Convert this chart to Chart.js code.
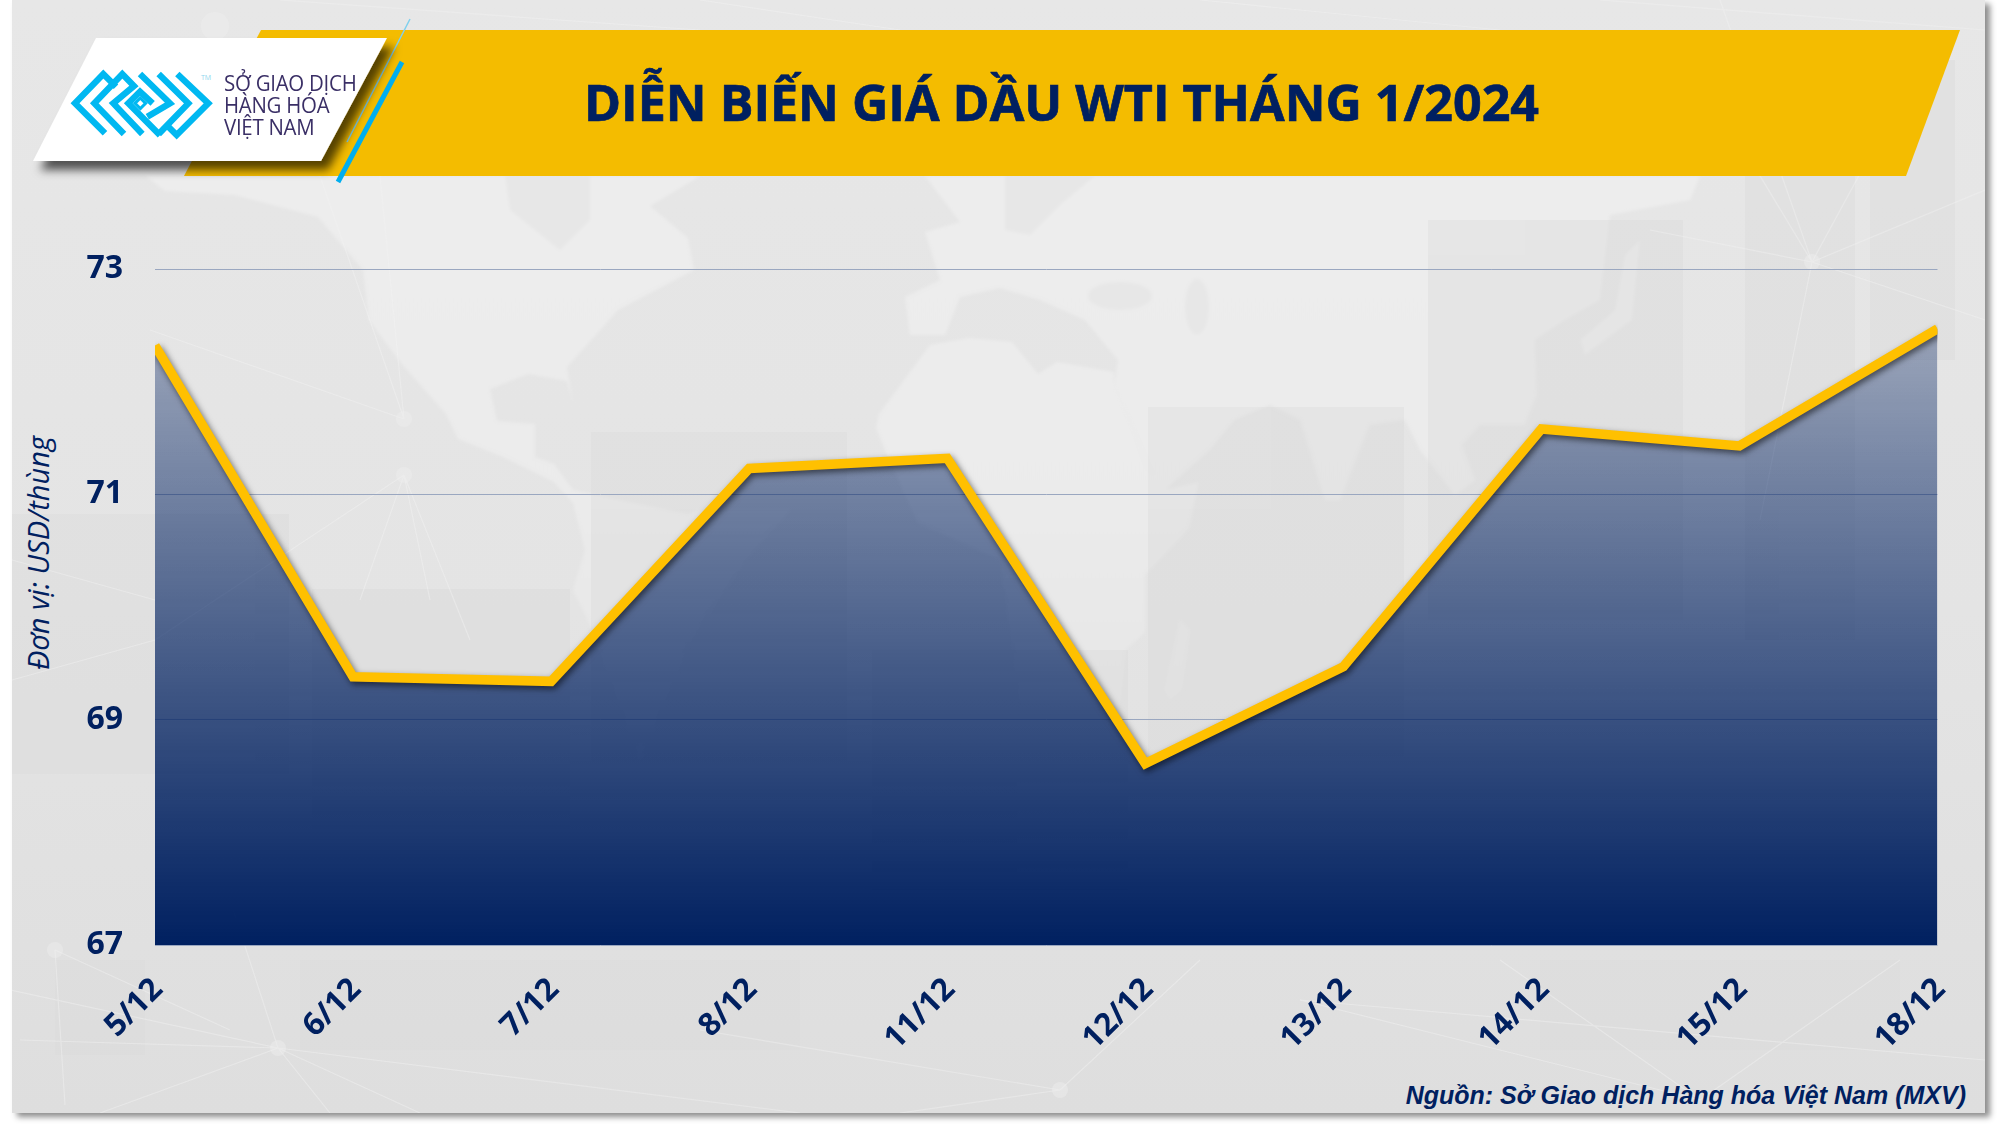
<!DOCTYPE html>
<html lang="vi"><head><meta charset="utf-8">
<script src="https://cdn.jsdelivr.net/npm/chart.js@4"></script>
<style>
html,body{margin:0;padding:0;background:#fff;width:2000px;height:1125px;overflow:hidden}
.abs{position:absolute}
#panel{left:12px;top:0;width:1973px;height:1113px;background:linear-gradient(#e7e7e7,#e4e4e4 55%,#dedede);box-shadow:5px 4px 6px rgba(0,0,0,.45)}
#chart{position:absolute;left:0;top:0}
#title{left:0;width:2123px;top:67px;text-align:center;font:700 50.2px "Open Sans",sans-serif;-webkit-text-stroke:.7px #002060;color:#002060;line-height:70px;white-space:nowrap}
#source{right:34px;top:1081px;font:italic 700 25px "Liberation Sans",sans-serif;color:#002060;white-space:nowrap}
#ytitle{left:37px;top:553px;transform:translate(-50%,-50%) rotate(-90deg);font:italic 400 29px "Open Sans",sans-serif;color:#002060;white-space:nowrap}
.lg{left:224px;font:400 22px "Open Sans",sans-serif;color:#3a2f66;line-height:22px;white-space:nowrap;letter-spacing:-.3px;transform:scaleX(.93);transform-origin:left center}
</style></head><body>
<div id="panel" class="abs"></div>
<svg class="abs" style="left:0;top:0" width="2000" height="1125" viewBox="0 0 2000 1125">
 <defs>
  <filter id="sh" x="-20%" y="-20%" width="140%" height="140%"><feDropShadow dx="7" dy="9" stdDeviation="5" flood-color="#000" flood-opacity=".65"/></filter>
  <filter id="soft" x="-5%" y="-5%" width="110%" height="110%"><feGaussianBlur stdDeviation="1.6"/></filter>
  <clipPath id="pc"><rect x="12" y="0" width="1973" height="1113"/></clipPath>
  <linearGradient id="land" gradientUnits="userSpaceOnUse" x1="0" y1="176" x2="0" y2="760"><stop offset="0" stop-color="#ededed"/><stop offset=".55" stop-color="#ebebeb"/><stop offset="1" stop-color="#e5e5e5"/></linearGradient>
 </defs>
 <g clip-path="url(#pc)">
  <g filter="url(#soft)">
   <g fill="url(#land)">
    <path d="M146 176 L165 191 L235 195 L318 217 L363 270 L369 320 L401 363 L446 414 L458 439 L503 457 L554 482 L573 503 L585 550 L573 590 L592 629 L640 760 L690 640 L745 560 L790 510 L700 510 L688 514 L573 490 L554 464 L535 457 L535 424 L497 421 L490 389 L528 374 L567 381 L573 403 L567 367 L618 310 L694 270 L688 238 L650 206 L700 176 Z"/>
    <path d="M930 345 L879 414 L876 428 L886 453 L918 523 L1000 560 L1020 700 L1120 707 L1126 650 L1145 632 L1145 575 L1189 528 L1199 482 L1167 489 L1148 467 L1133 428 L1114 385 L1114 372 L1057 362 L1038 374 L1012 342 L969 338 Z"/>
    <path d="M925 176 L1700 176 L1690 200 L1610 215 L1600 300 L1565 320 L1535 340 L1537 395 L1525 425 L1480 425 L1462 445 L1475 480 L1455 495 L1420 450 L1405 420 L1370 425 L1340 500 L1325 500 L1300 420 L1270 405 L1235 420 L1210 450 L1165 490 L1148 467 L1133 428 L1114 385 L1118 360 L1085 320 L1040 300 L1000 288 L960 297 L945 335 L910 335 L905 297 L940 280 L925 232 L960 222 Z"/>
    <path d="M1164 690 L1180 620 L1190 630 L1182 690 L1170 700 Z"/>
    <path d="M1625 255 L1640 240 L1632 320 L1585 355 L1580 340 L1615 310 Z"/>
   </g>
   <g fill="#e7e7e7">
    <ellipse cx="1120" cy="296" rx="32" ry="14"/>
    <ellipse cx="1197" cy="307" rx="12" ry="28"/>
    <path d="M1005 176 L1095 176 L1060 205 L1030 235 L1005 230 Z"/>
    <path d="M505 176 L590 176 L590 220 L560 250 L510 210 Z"/>
   </g>
  </g>
  <g fill="#d6d6d6" opacity=".3">
   <rect x="591" y="432" width="256" height="330"/>
   <rect x="1148" y="407" width="256" height="350"/>
   <rect x="1428" y="220" width="255" height="400"/>
   <rect x="312" y="589" width="258" height="240"/>
   <rect x="12" y="514" width="277" height="260"/>
   <rect x="872" y="650" width="256" height="240"/>
   <rect x="1745" y="120" width="110" height="520"/>
   <rect x="1870" y="60" width="85" height="300"/>
  </g>
  <g fill="#d6d6d6" opacity=".14">
   <rect x="55" y="960" width="90" height="95"/>
   <rect x="300" y="960" width="500" height="90"/>
   <rect x="1540" y="960" width="360" height="90"/>
  </g>
  <g stroke="#f2f2f2" stroke-width="1.2" opacity=".42" fill="none">
   <path d="M55 950 L65 1105M55 950 L230 1030M278 1048 L20 1040M278 1048 L100 1113M278 1048 L420 1113M278 1048 L230 900M278 1048 L330 1113M278 1048 L800 1113M278 1048 L10 990"/>
   <path d="M404 419 L150 330M404 419 L320 176M404 419 L380 176M404 475 L155 640M404 475 L360 600M404 475 L430 600M404 475 L470 640M155 600 L12 560M155 640 L12 680"/>
   <path d="M1812 262 L1650 230M1812 262 L1985 320M1812 262 L1690 60M1812 262 L1720 0M1812 262 L1900 100M1812 262 L1985 190M1812 262 L1760 520"/>
   <path d="M1060 1090 L700 1030M1060 1090 L900 1113M1060 1090 L1200 960M1700 1100 L1500 960M1700 1100 L1900 960M1700 1100 L1300 1000M1300 1000 L1985 1060"/>
   <path d="M280 0 L700 30M700 0 L900 30M1200 0 L1500 30M1600 0 L1985 30"/>
  </g>
  <g fill="#efefef" opacity=".4">
   <circle cx="404" cy="419" r="8"/><circle cx="404" cy="475" r="8"/><circle cx="278" cy="1048" r="8"/><circle cx="55" cy="950" r="8"/>
   <circle cx="1812" cy="262" r="8"/><circle cx="215" cy="26" r="14"/><circle cx="1060" cy="1090" r="8"/>
  </g>
 </g>
 <polygon points="261,30 1960,30 1906,176 184,176" fill="#f4bc00"/>
 <line x1="410" y1="19" x2="347" y2="142" stroke="#7fd0ee" stroke-width="1.5"/>
 <line x1="402" y1="62" x2="338" y2="182" stroke="#00aeef" stroke-width="5"/>
 <polygon points="96,38 387,38 321,161 33,161" fill="#fff" filter="url(#sh)"/>
 <g transform="translate(60,60) scale(.3333)" fill="none" stroke="#00b8f1" stroke-width="19" stroke-linejoin="miter">
  <polyline points="135,220 45,130 130,42 168,80"/>
  <polyline points="192,222 103,130 187,42 222,78 160,130 247,222"/>
  <polyline points="300,226 205,130 240,95 278,130"/>
  <polyline points="240,42 330,130 262,170"/>
  <polyline points="296,42 385,130 296,222"/>
  <polyline points="352,42 445,130 350,225 325,200"/>
  <polygon points="241,114 257,130 241,146 225,130" stroke-width="9"/>
 </g>
 <text x="201" y="80" font-family="Open Sans" font-size="7" fill="#8fd6ee">TM</text>
</svg>
<div class="abs lg" style="top:71px">SỞ GIAO DỊCH</div>
<div class="abs lg" style="top:93px">HÀNG HÓA</div>
<div class="abs lg" style="top:115px">VIỆT NAM</div>
<div id="title" class="abs">DIỄN BIẾN GIÁ DẦU WTI THÁNG 1/2024</div>
<div id="source" class="abs">Nguồn: Sở Giao dịch Hàng hóa Việt Nam (MXV)</div>
<div id="ytitle" class="abs">Đơn vị: USD/thùng</div>
<canvas id="chart" width="2000" height="1125"></canvas>
<script>
const categories = ["5/12","6/12","7/12","8/12","11/12","12/12","13/12","14/12","15/12","18/12"];
const wtiPrice = [72.32,69.38,69.34,71.23,71.32,68.61,69.47,71.58,71.43,72.47];
const yMin = 67, yMax = 73, yStep = 2;
const navy = "#002060";

const lineShadow = {
  id:"lineShadow",
  beforeDatasetDraw(chart){const c=chart.ctx;c.save();c.shadowColor="rgba(0,0,0,.55)";c.shadowBlur=6;c.shadowOffsetX=2;c.shadowOffsetY=3;},
  afterDatasetDraw(chart){chart.ctx.restore();}
};

new Chart(document.getElementById("chart"),{
  type:"line",
  plugins:[lineShadow],
  data:{labels:categories,datasets:[{
    data:wtiPrice,
    borderColor:"#ffc000",borderWidth:9.5,borderJoinStyle:"miter",borderCapStyle:"butt",
    pointRadius:0,tension:0,clip:0,fill:"start",
    backgroundColor(ctx){
      const ch=ctx.chart,ca=ch.chartArea; if(!ca) return "rgba(0,32,96,.6)";
      const top=ch.scales.y.getPixelForValue(72.5);
      const g=ch.ctx.createLinearGradient(0,top,0,ca.bottom);
      g.addColorStop(0,"rgba(0,32,96,.32)");
      g.addColorStop(1,"rgba(0,32,96,1)");
      return g;
    }
  }]},
  options:{
    responsive:false,animation:false,devicePixelRatio:1,
    layout:{padding:{left:0,top:269,right:62.5,bottom:0}},
    plugins:{legend:{display:false},tooltip:{enabled:false},title:{display:false}},
    scales:{
      x:{
        offset:false,
        afterFit(s){s.height=180;},
        grid:{display:false},border:{display:false},
        ticks:{autoSkip:false,minRotation:45,maxRotation:45,padding:18,labelOffset:3,color:navy,font:{family:"Open Sans",weight:"700",size:31.5}}
      },
      y:{
        min:yMin,max:yMax,
        afterFit(s){s.width=155;},
        border:{display:false},
        grid:{color:"#9aa7c0",lineWidth:1,drawTicks:false},
        ticks:{stepSize:yStep,padding:32,color:navy,font:{family:"Open Sans",weight:"700",size:32}}
      }
    }
  }
});
</script>
</body></html>
